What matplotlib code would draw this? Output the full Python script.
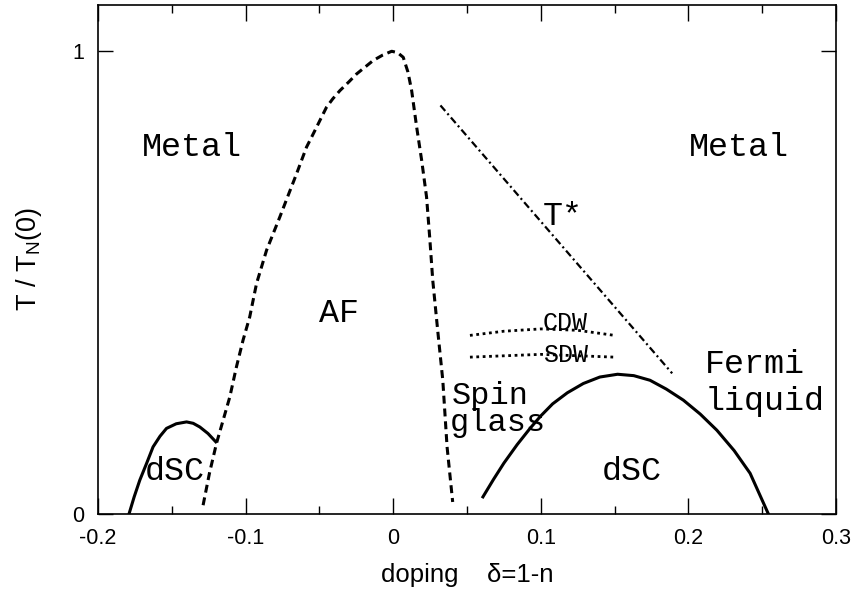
import matplotlib
matplotlib.use("Agg")
import matplotlib.pyplot as plt

# antiferromagnetic boundary (dashed)
af_x = [-0.1288, -0.1245, -0.1197, -0.1152, -0.1107, -0.1062, -0.1017, -0.0972, -0.0926,
        -0.0858, -0.0768, -0.0699, -0.0655, -0.0620, -0.0587, -0.0552, -0.0519, -0.0485,
        -0.0452, -0.041, -0.0361, -0.030, -0.0248, -0.019, -0.0136, -0.007, -0.001,
        0.003, 0.0068, 0.010, 0.0125, 0.0159, 0.0193, 0.0226, 0.0248, 0.0268, 0.0302,
        0.0336, 0.0365, 0.0403]
af_y = [0.019, 0.088, 0.153, 0.203, 0.253, 0.318, 0.376, 0.426, 0.498,
        0.570, 0.642, 0.699, 0.735, 0.765, 0.793, 0.815, 0.836, 0.858,
        0.879, 0.897, 0.915, 0.934, 0.951, 0.966, 0.980, 0.992, 1.0,
        0.997, 0.987, 0.955, 0.915, 0.836, 0.764, 0.685, 0.595, 0.505, 0.395,
        0.289, 0.145, 0.026]

# electron-doped dSC dome
dsc_e_x = [-0.179, -0.1755, -0.1717, -0.167, -0.1627, -0.158, -0.1536, -0.147, -0.140,
           -0.1355, -0.131, -0.1255, -0.1202]
dsc_e_y = [0.0, 0.037, 0.073, 0.11, 0.145, 0.168, 0.185, 0.195, 0.199,
           0.196, 0.188, 0.174, 0.156]

# hole-doped dSC dome
dsc_h_x = [0.0608, 0.068, 0.075, 0.084, 0.0927, 0.100, 0.108, 0.118, 0.1288, 0.140,
           0.152, 0.163, 0.174, 0.185, 0.1966, 0.208, 0.2193, 0.231, 0.2418, 0.2542]
dsc_h_y = [0.037, 0.075, 0.11, 0.15, 0.185, 0.212, 0.238, 0.262, 0.282, 0.296,
           0.302, 0.299, 0.289, 0.27, 0.246, 0.216, 0.181, 0.137, 0.088, 0.0]

# pseudogap T*
tstar_x = [0.032, 0.189]
tstar_y = [0.883, 0.304]

# CDW / SDW lines
cdw_x = [0.052, 0.075, 0.100, 0.125, 0.150]
cdw_y = [0.386, 0.395, 0.400, 0.397, 0.386]
sdw_x = [0.052, 0.100, 0.150]
sdw_y = [0.339, 0.345, 0.339]

# x ticks
xticks = [-0.2, -0.1, 0.0, 0.1, 0.2, 0.3]
xticklabels = ["-0.2", "-0.1", "0", "0.1", "0.2", "0.3"]
xminor = [-0.15, -0.05, 0.05, 0.15, 0.25]
yticks = [0, 1]
yticklabels = ["0", "1"]

# region labels: (text, x, y, size)
labels = [
    ("Metal", -0.1704, 0.773, 24),
    ("Metal", 0.2000, 0.773, 24),
    ("T*", 0.1015, 0.624, 24),
    ("AF", -0.050, 0.414, 24),
    ("CDW", 0.1010, 0.397, 18),
    ("SDW", 0.1015, 0.328, 18),
    ("Fermi", 0.2113, 0.304, 24),
    ("liquid", 0.2113, 0.2245, 24),
    ("Spin", 0.0398, 0.238, 23),
    ("glass", 0.0380, 0.180, 23),
    ("dSC", 0.1415, 0.073, 24),
    ("dSC", -0.1684, 0.073, 24),
]

fig = plt.figure(figsize=(8.57, 5.98), dpi=100)
ax = fig.add_axes([98 / 857, 1 - 514 / 598, (836 - 98) / 857, (514 - 5) / 598])

ax.plot(af_x, af_y, color="black", lw=2.2, dashes=(2.6, 1.6))
ax.plot(dsc_e_x, dsc_e_y, color="black", lw=2.2)
ax.plot(dsc_h_x, dsc_h_y, color="black", lw=2.2)
ax.plot(tstar_x, tstar_y, color="black", lw=1.6, dashes=(3.3, 1.5, 0.9, 1.5))
ax.plot(cdw_x, cdw_y, color="black", lw=2.0, dashes=(1.0, 1.3))
ax.plot(sdw_x, sdw_y, color="black", lw=2.0, dashes=(1.0, 1.3))

for txt, x, y, size in labels:
    ax.text(x, y, txt, fontsize=size, family="Liberation Mono",
            ha="left", va="baseline")

ax.set_xlim(-0.2, 0.3)
ax.set_ylim(0, 1.1)
ax.set_xticks(xticks, xticklabels)
ax.set_xticks(xminor, minor=True)
ax.set_yticks(yticks, yticklabels)
ax.tick_params(which="both", direction="in", top=True, right=True, width=1.0,
               labelsize=15.5, labelfontfamily="Liberation Sans")
ax.tick_params(axis="x", which="major", length=11.5, pad=10)
ax.tick_params(axis="x", which="minor", length=5.8)
ax.tick_params(axis="y", which="major", length=11, pad=10)
for s in ax.spines.values():
    s.set_linewidth(1.2)

ax.set_xlabel("doping    δ=1-n", fontsize=18.5, family="Liberation Sans", labelpad=10)
ax.set_ylabel(r"T / T$_\mathregular{N}$(0)", fontsize=19.5, family="Liberation Sans", labelpad=20)

fig.savefig("out.png", dpi=100)
